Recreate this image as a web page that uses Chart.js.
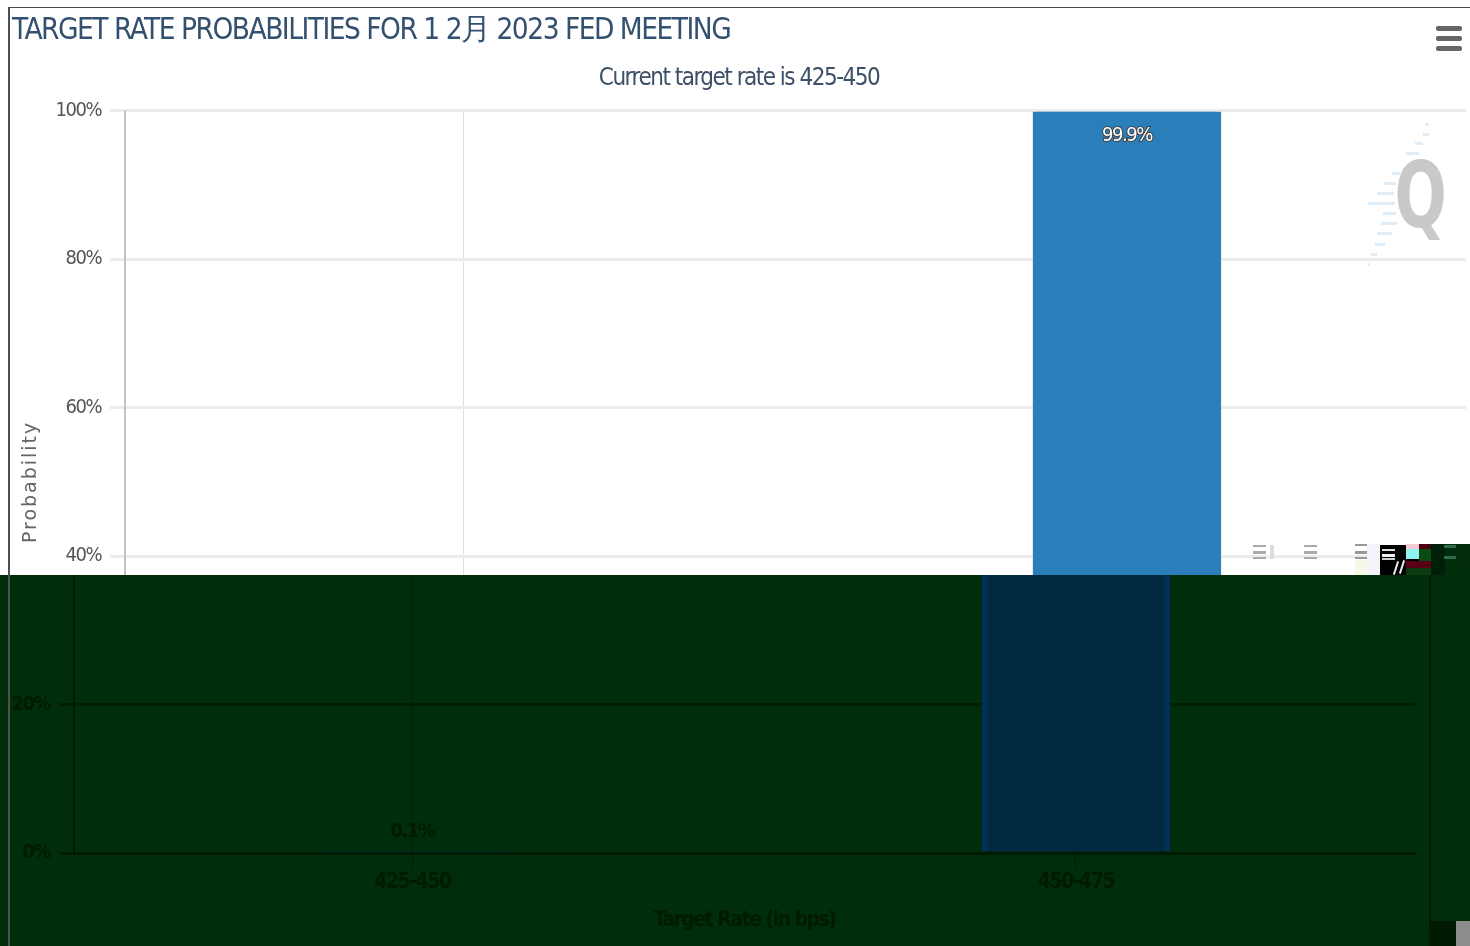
<!DOCTYPE html>
<html>
<head>
<meta charset="utf-8">
<title>Target rate probabilities</title>
<script src="https://cdn.jsdelivr.net/npm/chart.js@4/dist/chart.umd.js"></script>
<style>
  html, body { margin: 0; padding: 0; background: #fff; }
  #page { position: relative; width: 1470px; height: 946px; overflow: hidden; background: #fff; }
  .clip { position: absolute; overflow: hidden; }
  .clip canvas { position: absolute; display: block; }
  #topClip { left: 0; top: 0; width: 1470px; height: 575px; }
  #topClip canvas { left: 0; top: 0; }
  #bottomClip { left: 0; top: 575px; width: 1470px; height: 371px; background: #002d0a; }
  #bottomClip canvas { left: -51px; top: -575px; }
  .box { position: absolute; }
</style>
</head>
<body>
<div id="page">
  <div class="clip" id="topClip"><canvas id="topChart" width="1470" height="946"></canvas></div>
  <div class="clip" id="bottomClip"><canvas id="bottomChart" width="1470" height="946"></canvas></div>

  <!-- frame -->
  <div class="box" style="left:8px;top:7px;width:1462px;height:1px;background:#4a4a4a"></div>
  <div class="box" style="left:8px;top:7px;width:2px;height:939px;background:#4f4f4f"></div>

  <!-- menu button -->
  <div class="box" style="left:1436px;top:26px;width:26px;height:5px;background:#666;border-radius:2px"></div>
  <div class="box" style="left:1436px;top:36px;width:26px;height:5px;background:#666;border-radius:2px"></div>
  <div class="box" style="left:1436px;top:46px;width:26px;height:5px;background:#666;border-radius:2px"></div>

  <!-- broken bits at the seam -->
  <div class="box" style="left:1253px;top:545px;width:13px;height:2px;background:#aaa"></div>
  <div class="box" style="left:1253px;top:551px;width:13px;height:3px;background:#aaa"></div>
  <div class="box" style="left:1253px;top:557px;width:13px;height:2px;background:#aaa"></div>
  <div class="box" style="left:1270px;top:545px;width:4px;height:14px;background:#ddd"></div>
  <div class="box" style="left:1304px;top:545px;width:13px;height:2px;background:#aaa"></div>
  <div class="box" style="left:1304px;top:551px;width:13px;height:3px;background:#aaa"></div>
  <div class="box" style="left:1304px;top:557px;width:13px;height:2px;background:#aaa"></div>
  <div class="box" style="left:1355px;top:544px;width:12px;height:2px;background:#999"></div>
  <div class="box" style="left:1355px;top:551px;width:12px;height:3px;background:#999"></div>
  <div class="box" style="left:1355px;top:557px;width:12px;height:2px;background:#999"></div>
  <div class="box" style="left:1355px;top:560px;width:12px;height:15px;background:#f7f9e6"></div>
  <div class="box" style="left:1367px;top:544px;width:13px;height:31px;background:#f6f3fb"></div>
  <div class="box" style="left:1380px;top:545px;width:26px;height:30px;background:#000"></div>
  <div class="box" style="left:1382px;top:549px;width:13px;height:2px;background:#ddd"></div>
  <div class="box" style="left:1382px;top:554px;width:13px;height:3px;background:#eee"></div>
  <div class="box" style="left:1382px;top:558px;width:13px;height:2px;background:#ccc"></div>
  <div class="box" style="left:1395px;top:561px;width:2px;height:14px;background:#e8e8e8;transform:rotate(18deg)"></div>
  <div class="box" style="left:1401px;top:560px;width:2px;height:14px;background:#e8e8e8;transform:rotate(18deg)"></div>
  <div class="box" style="left:1406px;top:544px;width:13px;height:5px;background:#f4c9d8"></div>
  <div class="box" style="left:1406px;top:549px;width:13px;height:10px;background:#8ff3ef"></div>
  <div class="box" style="left:1419px;top:544px;width:12px;height:5px;background:#4a0010"></div>
  <div class="box" style="left:1419px;top:549px;width:12px;height:12px;background:#0b4a12"></div>
  <div class="box" style="left:1406px;top:559px;width:13px;height:2px;background:#000"></div>
  <div class="box" style="left:1406px;top:561px;width:25px;height:7px;background:#5a0014"></div>
  <div class="box" style="left:1406px;top:568px;width:25px;height:7px;background:#0d3a10"></div>
  <div class="box" style="left:1431px;top:544px;width:39px;height:31px;background:#012d0b"></div>
  <div class="box" style="left:1431px;top:544px;width:14px;height:31px;background:#011e08"></div>
  <div class="box" style="left:1444px;top:545px;width:12px;height:3px;background:#2f6b4a"></div>
  <div class="box" style="left:1444px;top:556px;width:12px;height:3px;background:#2f6b4a"></div>

  <!-- right side of the lower part -->
  <div class="box" style="left:1429px;top:575px;width:2px;height:346px;background:#001a04"></div>
  <div class="box" style="left:1429px;top:921px;width:27px;height:25px;background:#001a04"></div>
  <div class="box" style="left:1456px;top:921px;width:14px;height:25px;background:#8c8c8c"></div>
</div>

<script>
const categories = ['425-450', '450-475']
const categoryPositions = [0, 1]
const probabilities = [0.1, 99.9]
const probabilityLabels = ['0.1%', '99.9%']
const yTicks = [0, 20, 40, 60, 80, 100]

const chartTitle = 'TARGET RATE PROBABILITIES FOR 1 2月 2023 FED MEETING'
const chartSubtitle = 'Current target rate is 425-450'
const xAxisTitle = 'Target Rate (in bps)'
const yAxisTitle = 'Probability'

const narrowFont = '"DejaVu Sans Condensed", sans-serif'

const lightTheme = {
    title: '#33506f', subtitle: '#3d5068', text: '#555555', axisTitle: '#666666',
    grid: '#ececec', xGrid: '#dedede', axis: '#c4c4c4', bar: '#2a7fba', barEdge: '#2a7fba',
    labelFill: '#ffffff', labelStroke: '#444444', lowLabel: '#333333',
    tickColor: '#e0e0e0', weight: 'normal', watermark: true
}
const darkTheme = {
    title: '#001a04', subtitle: '#001a04', text: '#001a04', axisTitle: '#001a04',
    grid: '#001e05', xGrid: '#001e05', axis: '#001a04', bar: '#012a42', barEdge: '#012f55',
    labelFill: '#001a04', labelStroke: '#001a04', lowLabel: '#001a04',
    tickColor: '#001a04', weight: 'bold', watermark: false
}

// the original text is squeezed, every label on the canvas gets this
const tightText = {
    id: 'tightText',
    beforeDraw(chart) { chart.ctx.letterSpacing = '-1.5px' }
}

// bar value labels, the library has no built in ones
const valueLabels = {
    id: 'valueLabels',
    afterDatasetsDraw(chart, args, opts) {
        const ctx = chart.ctx
        const theme = opts.theme
        chart.getDatasetMeta(0).data.forEach((bar, i) => {
            const big = probabilities[i] > 50
            const y = big ? bar.y + 24 : bar.y - 20
            ctx.save()
            ctx.font = theme.weight + ' 20px ' + narrowFont
            ctx.textAlign = 'center'
            ctx.textBaseline = 'middle'
            if (big) {
                ctx.lineWidth = 2
                ctx.strokeStyle = theme.labelStroke
                ctx.strokeText(probabilityLabels[i], bar.x, y)
                ctx.fillStyle = theme.labelFill
            } else {
                ctx.fillStyle = theme.lowLabel
            }
            ctx.fillText(probabilityLabels[i], bar.x, y)
            ctx.restore()
        })
    }
}

// y axis title is wider spaced than the rest so it is drawn here
const yCaption = {
    id: 'yCaption',
    afterDraw(chart, args, opts) {
        const ctx = chart.ctx
        const y = (chart.scales.y.top + chart.scales.y.bottom) / 2
        ctx.save()
        ctx.translate(31, y)
        ctx.rotate(-Math.PI / 2)
        ctx.letterSpacing = '2px'
        ctx.font = '19px "DejaVu Sans", sans-serif'
        ctx.fillStyle = opts.theme.axisTitle
        ctx.textAlign = 'center'
        ctx.textBaseline = 'middle'
        ctx.fillText(yAxisTitle, 0, 0)
        ctx.restore()
    }
}

// faint logo in the upper right corner
const watermark = {
    id: 'watermark',
    beforeDatasetsDraw(chart, args, opts) {
        if (!opts.theme.watermark) return
        const ctx = chart.ctx
        ctx.save()
        ctx.fillStyle = '#deedf7'
        const dashes = [[1425, 123, 4], [1423, 133, 6], [1415, 142, 8], [1406, 152, 13], [1392, 172, 8], [1384, 182, 12],
            [1377, 192, 17], [1368, 202, 27], [1383, 212, 13], [1381, 222, 16], [1377, 232, 15], [1375, 243, 10], [1371, 253, 6], [1368, 263, 2]]
        dashes.forEach(d => ctx.fillRect(d[0], d[1], d[2], 3))
        ctx.fillStyle = '#c9c9c9'
        ctx.translate(1420, 227)
        ctx.scale(0.75, 1)
        ctx.font = 'bold 91px "DejaVu Sans Condensed", "DejaVu Sans", sans-serif'
        ctx.textAlign = 'center'
        ctx.textBaseline = 'alphabetic'
        ctx.fillText('Q', 0, 0)
        ctx.restore()
    }
}

const makeChart = (canvasId, theme) => {
    return new Chart(document.getElementById(canvasId), {
        type: 'bar',
        data: {
            datasets: [{
                data: categoryPositions.map((pos, i) => ({ x: pos, y: probabilities[i] })),
                backgroundColor: theme.bar,
                borderColor: theme.barEdge,
                borderWidth: { left: 6, right: 6, top: 0, bottom: 0 },
                barThickness: 188
            }]
        },
        plugins: [tightText, valueLabels, yCaption, watermark],
        options: {
            responsive: false,
            animation: false,
            layout: { padding: { left: 12, right: 4, top: 0, bottom: 13 } },
            plugins: {
                legend: { display: false },
                tooltip: { enabled: false },
                valueLabels: { theme },
                yCaption: { theme },
                watermark: { theme },
                title: {
                    display: true,
                    text: chartTitle,
                    align: 'start',
                    color: theme.title,
                    font: { family: narrowFont, size: 29.5, weight: 'normal', lineHeight: 1.2 },
                    padding: { top: 14, bottom: 15 }
                },
                subtitle: {
                    display: true,
                    text: chartSubtitle,
                    color: theme.subtitle,
                    font: { family: narrowFont, size: 24, weight: 'normal', lineHeight: 1.2 },
                    padding: { top: 0, bottom: 17.6 }
                }
            },
            scales: {
                x: {
                    type: 'linear',
                    offset: false,
                    min: -0.51,
                    max: 1.511,
                    afterBuildTicks: scale => { scale.ticks = categoryPositions.map(value => ({ value })) },
                    afterFit: scale => { scale.height = 80 },
                    ticks: {
                        callback: value => categories[categoryPositions.indexOf(value)],
                        color: theme.text,
                        font: { family: narrowFont, size: 21, weight: theme.weight },
                        padding: 2,
                        maxRotation: 0
                    },
                    grid: { offset: false, color: theme.xGrid, lineWidth: 1, tickLength: 15, tickColor: theme.tickColor },
                    border: { color: theme.axis, width: 3 },
                    title: {
                        display: true,
                        text: xAxisTitle,
                        color: theme.axisTitle,
                        font: { family: narrowFont, size: 21, weight: theme.weight },
                        padding: { top: 8, bottom: 0 }
                    }
                },
                y: {
                    min: 0,
                    max: 100,
                    afterBuildTicks: scale => { scale.ticks = yTicks.map(value => ({ value })) },
                    afterFit: scale => { scale.width = 113 },
                    ticks: {
                        callback: value => value + '%',
                        color: theme.text,
                        font: { family: narrowFont, size: 20, weight: theme.weight },
                        padding: 9
                    },
                    grid: { color: theme.grid, lineWidth: 3, tickLength: 15, tickColor: theme.grid },
                    border: { color: theme.axis, width: 2 }
                }
            }
        }
    })
}

makeChart('topChart', lightTheme)
makeChart('bottomChart', darkTheme)
</script>
</body>
</html>
